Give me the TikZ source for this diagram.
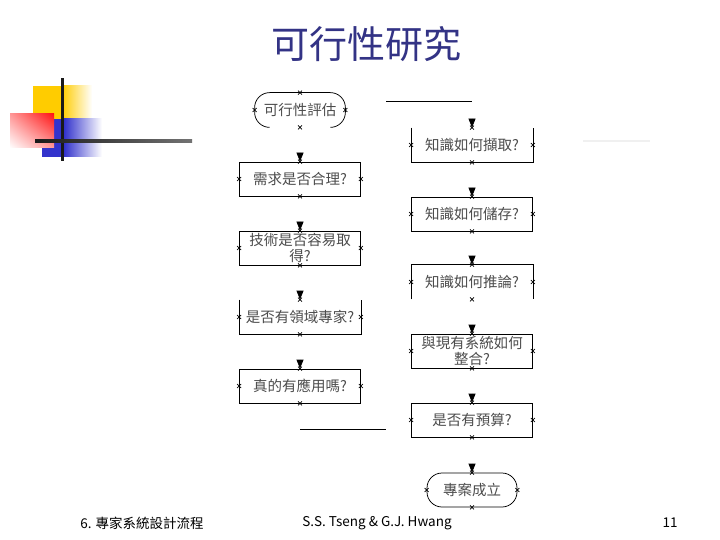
\documentclass[tikz,border=0pt]{standalone}
\usepackage{fontspec}
\usepackage{tikz}
\usetikzlibrary{arrows.meta,calc,shadings}
\newfontfamily\cjk{Noto Sans CJK TC}
\definecolor{titleblue}{RGB}{51,51,133}
\definecolor{deckyellow}{RGB}{255,204,0}
\definecolor{deckblue}{RGB}{51,51,204}
\definecolor{deckred}{RGB}{255,20,20}

\tikzset{
  stepbox/.style={rectangle, minimum width=121pt, minimum height=34pt, inner sep=1pt, align=center, text=black!70, font=\cjk\fontsize{14.5}{16}\selectfont},
  termbox/.style={stepbox, minimum width=90pt, rounded corners=15pt},
  tip/.style={-{Triangle[length=9pt,width=7pt]}},
  xmk/.style={black, line width=0.6pt},
  foot/.style={inner sep=0pt, font=\cjk\fontsize{13.5}{15}\selectfont}
}

\begin{document}
\begin{tikzpicture}[x=1pt,y=-1pt,line width=0.75pt]
            \useasboundingbox (0,0) rectangle (720,540);

            % Slide Decoration
            \fill[deckyellow] (33,86) rectangle (62,119);
            \shade[left color=deckyellow, right color=white] (62,86) rectangle (92,119);
            \fill[deckblue] (42,119) rectangle (64,157);
            \shade[left color=deckblue, right color=white] (64,119) rectangle (102,157);
            \shade[upper right=deckred, upper left=red!40, lower right=red!40, lower left=white] (10,114) rectangle (54,148);
            \fill[black!90] (60.5,78) rectangle (63.5,161);
            \shade[left color=black!90, right color=black!55] (35,139.5) rectangle (192,142.5);
            \draw[black!6, line width=1.5pt] (583,141) -- (650,141);

            % Title
            \node[font=\cjk\fontsize{38}{40}\selectfont, text=titleblue] (title) at (366,44) {可行性研究};

            % Left Column
            \node[termbox] (eval) at (300,110) {可行性評估};
            \node[stepbox, draw] (need) at (300,179) {需求是否合理?};
            \node[stepbox, draw] (tech) at (300,248) {技術是否容易取\\得?};
            \node[stepbox] (expert) at (300,317) {是否有領域專家?};
            \node[stepbox, draw] (use) at (300,386) {真的有應用嗎?};

            % Right Column
            \node[stepbox] (acquire) at (472,145) {知識如何擷取?};
            \node[stepbox, draw] (store) at (472,214) {知識如何儲存?};
            \node[stepbox] (infer) at (472,282) {知識如何推論?};
            \node[stepbox, draw] (integ) at (472,351) {與現有系統如何\\整合?};
            \node[stepbox, draw] (budget) at (472,420) {是否有預算?};
            \node[termbox, draw] (done) at (472,490) {專案成立};

            % Boxes With Missing Edges
            \draw[rounded corners=15pt] ($(eval.south west)+(15,0)$) -- (eval.south west) -- (eval.north west) -- (eval.north east) -- (eval.south east) -- ($(eval.south east)+(-15,0)$);
            \draw (expert.north west) -- (expert.south west) -- (expert.south east) -- (expert.north east);
            \draw (acquire.north west) -- (acquire.south west) -- (acquire.south east) -- (acquire.north east);
            \draw (infer.south west) -- (infer.north west) -- (infer.north east) -- (infer.south east);

            % Column Link
            \coordinate (useout) at ($(use.south)+(0,26)$);
            \coordinate (midtop) at (386,101);
            \coordinate (midlow) at (useout -| midtop);
            \coordinate (acqin) at (acquire.north |- midtop);
            \draw (useout) -- (midlow);
            \draw (midtop) -- (acqin);

            % Arrow Heads
            \foreach \n in {need,tech,expert,use,acquire,store,infer,integ,budget,done}{
              \coordinate (\n-in) at ($(\n.north)+(0,-9)$);
              \draw[tip] (\n-in) -- (\n.north);
            }

            % Connection Marks
            \foreach \n in {eval,need,tech,expert,use,acquire,store,infer,integ,budget,done}
              \foreach \a in {north,south,east,west}
                \draw[xmk] (\n.\a) +(-2,-2) -- +(2,2) +(-2,2) -- +(2,-2);

            % Footer
            \node[foot, anchor=west] (chap) at (80,523) {6. 專家系統設計流程};
            \node[foot] (authors) at (377,523) {S.S. Tseng \& G.J. Hwang};
            \node[foot, anchor=east] (page) at (678,523) {11};

            \end{tikzpicture}
\end{document}
